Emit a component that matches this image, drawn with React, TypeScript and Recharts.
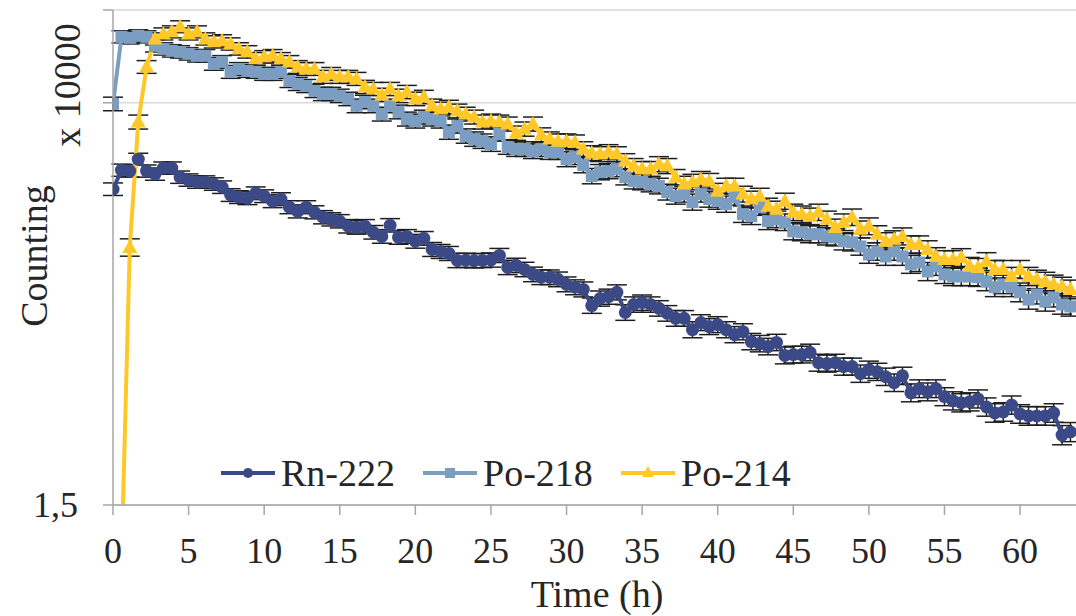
import { LineChart, Line, XAxis, YAxis, CartesianGrid, ErrorBar } from "recharts";

const RN = "#3B4A87";
const PO218 = "#7B9DC1";
const PO214 = "#FFC828";
const FONT = '"Liberation Serif", "Times New Roman", serif';
const TEXT = "#262626";
const AXIS = "#A6A6A6";
const GRID = "#D9D9D9";

// time of each count (h)
const hours = [
  0, 0.56, 1.11, 1.67, 2.22, 2.78, 3.33, 3.89, 4.44,
  5, 5.56, 6.11, 6.67, 7.22, 7.78, 8.33, 8.89, 9.44,
  10, 10.56, 11.11, 11.67, 12.22, 12.78, 13.33, 13.89, 14.44,
  15, 15.56, 16.11, 16.67, 17.22, 17.78, 18.33, 18.89, 19.44,
  20, 20.56, 21.11, 21.67, 22.22, 22.78, 23.33, 23.89, 24.44,
  25, 25.56, 26.11, 26.67, 27.22, 27.78, 28.33, 28.89, 29.44,
  30, 30.56, 31.11, 31.67, 32.22, 32.78, 33.33, 33.89, 34.44,
  35, 35.56, 36.11, 36.67, 37.22, 37.78, 38.33, 38.89, 39.44,
  40, 40.56, 41.11, 41.67, 42.22, 42.78, 43.33, 43.89, 44.44,
  45, 45.56, 46.11, 46.67, 47.22, 47.78, 48.33, 48.89, 49.44,
  50, 50.56, 51.11, 51.67, 52.22, 52.78, 53.33, 53.89, 54.44,
  55, 55.56, 56.11, 56.67, 57.22, 57.78, 58.33, 58.89, 59.44,
  60, 60.56, 61.11, 61.67, 62.22, 62.78, 63.33,
];

// counts, x 10000
const rn222 = [
  2.585, 2.671, 2.667, 2.722, 2.667, 2.653, 2.681, 2.681, 2.639, 2.626,
  2.617, 2.617, 2.608, 2.594, 2.559, 2.55, 2.545, 2.567, 2.554, 2.532,
  2.541, 2.506, 2.488, 2.506, 2.484, 2.463, 2.454, 2.446, 2.425, 2.42,
  2.425, 2.4, 2.383, 2.429, 2.379, 2.383, 2.363, 2.375, 2.33, 2.322,
  2.314, 2.286, 2.287, 2.285, 2.286, 2.288, 2.306, 2.259, 2.267, 2.251,
  2.232, 2.221, 2.221, 2.213, 2.194, 2.183, 2.175, 2.115, 2.141, 2.148,
  2.164, 2.09, 2.119, 2.126, 2.119, 2.105, 2.087, 2.069, 2.069, 2.029,
  2.054, 2.04, 2.047, 2.029, 2.012, 2.022, 1.988, 1.981, 1.971, 1.985,
  1.941, 1.944, 1.944, 1.951, 1.917, 1.914, 1.917, 1.904, 1.904, 1.881,
  1.894, 1.887, 1.871, 1.852, 1.874, 1.82, 1.833, 1.823, 1.833, 1.808,
  1.795, 1.789, 1.792, 1.801, 1.776, 1.758, 1.761, 1.782, 1.755, 1.749,
  1.749, 1.749, 1.758, 1.692, 1.701,
];

const po218 = [
  2.994, 3.361, 3.355, 3.367, 3.361, 3.309, 3.292, 3.281, 3.275, 3.264,
  3.253, 3.253, 3.208, 3.219, 3.164, 3.18, 3.169, 3.164, 3.153, 3.153,
  3.164, 3.115, 3.099, 3.088, 3.062, 3.046, 3.046, 3.036, 3.02, 2.984,
  3.004, 2.984, 2.942, 2.984, 2.953, 2.917, 2.907, 2.927, 2.917, 2.907,
  2.852, 2.882, 2.833, 2.818, 2.808, 2.794, 2.843, 2.78, 2.77, 2.77,
  2.76, 2.77, 2.756, 2.756, 2.722, 2.732, 2.694, 2.644, 2.662, 2.667,
  2.676, 2.639, 2.621, 2.617, 2.608, 2.599, 2.572, 2.554, 2.563, 2.528,
  2.563, 2.541, 2.532, 2.519, 2.55, 2.476, 2.467, 2.506, 2.446, 2.454,
  2.442, 2.404, 2.4, 2.392, 2.392, 2.383, 2.379, 2.363, 2.359, 2.342,
  2.31, 2.322, 2.302, 2.322, 2.302, 2.271, 2.278, 2.243, 2.263, 2.232,
  2.224, 2.224, 2.224, 2.221, 2.205, 2.183, 2.194, 2.183, 2.164, 2.137,
  2.156, 2.13, 2.145, 2.119, 2.112,
];

const po214 = [
  0.3, 1.36, 2.338, 2.902, 3.191, 3.349, 3.378, 3.39, 3.42, 3.378,
  3.39, 3.349, 3.332, 3.338, 3.32, 3.292, 3.275, 3.236, 3.247, 3.253,
  3.236, 3.219, 3.191, 3.18, 3.18, 3.137, 3.153, 3.137, 3.137, 3.126,
  3.083, 3.072, 3.041, 3.072, 3.036, 3.056, 3.02, 3.03, 2.984, 2.968,
  2.978, 2.958, 2.942, 2.927, 2.902, 2.907, 2.902, 2.892, 2.847, 2.867,
  2.892, 2.838, 2.818, 2.808, 2.808, 2.803, 2.77, 2.751, 2.746, 2.756,
  2.746, 2.713, 2.69, 2.676, 2.676, 2.699, 2.69, 2.639, 2.608, 2.617,
  2.63, 2.621, 2.576, 2.599, 2.599, 2.563, 2.541, 2.554, 2.51, 2.497,
  2.532, 2.484, 2.476, 2.467, 2.484, 2.454, 2.42, 2.442, 2.463, 2.412,
  2.425, 2.392, 2.363, 2.371, 2.383, 2.35, 2.35, 2.33, 2.302, 2.29,
  2.29, 2.298, 2.263, 2.259, 2.282, 2.251, 2.251, 2.224, 2.251, 2.224,
  2.213, 2.205, 2.194, 2.186, 2.175,
];

const hourTicks = [0, 5, 10, 15, 20, 25, 30, 35, 40, 45, 50, 55, 60];
const countTicks = [1.5, 3, 3.52];

// counting uncertainty (x 10000)
const rnErr = 0.028;
const po218Err = 0.035;
const po214Err = 0.035;

const rows = hours.map((t, i) => ({
  t,
  rn: rn222[i],
  po218: po218[i],
  po214: po214[i],
  rnE: rnErr,
  po218E: po218Err,
  po214E: po214[i] > 1.5 ? po214Err : 0,
}));

const ok = (p: any) => Number.isFinite(p.cx) && Number.isFinite(p.cy);

const RnDot = (p: any) =>
  ok(p) ? <circle key={p.index} cx={p.cx} cy={p.cy} r={6.5} fill={RN} /> : <g key={p.index} />;

const SquareDot = (p: any) =>
  ok(p) ? (
    <rect key={p.index} x={p.cx - 6} y={p.cy - 6} width={12} height={12} fill={PO218} />
  ) : (
    <g key={p.index} />
  );

const TriDot = (p: any) =>
  ok(p) ? (
    <polygon
      key={p.index}
      points={`${p.cx},${p.cy - 8} ${p.cx + 7.5},${p.cy + 5.5} ${p.cx - 7.5},${p.cy + 5.5}`}
      fill={PO214}
    />
  ) : (
    <g key={p.index} />
  );

const HourTick = ({ x, payload }: any) => (
  <text x={x} y={563} textAnchor="middle" fontFamily={FONT} fontSize={36} fill={TEXT}>
    {payload.value}
  </text>
);

const CountTick = ({ y, payload }: any) =>
  payload.value === 1.5 ? (
    <text x={78} y={y + 12} textAnchor="end" fontFamily={FONT} fontSize={36} fill={TEXT}>
      1,5
    </text>
  ) : (
    <g />
  );

function LegendItem({ x, label, color, shape }: { x: number; label: string; color: string; shape: string }) {
  const cx = x + 27;
  return (
    <g>
      <line x1={x} x2={x + 54} y1={473} y2={473} stroke={color} strokeWidth={4} />
      {shape === "circle" && <circle cx={cx} cy={473} r={5} fill={color} />}
      {shape === "square" && <rect x={cx - 5} y={468} width={10} height={10} fill={color} />}
      {shape === "tri" && <polygon points={`${cx},${466} ${cx + 6},${477} ${cx - 6},${477}`} fill={color} />}
      <text x={x + 60} y={486} fontFamily={FONT} fontSize={38} fill={TEXT}>
        {label}
      </text>
    </g>
  );
}

export default function App() {
  return (
    <div style={{ position: "absolute", left: 0, top: 0, width: 1076, height: 616, background: "#fff" }}>
      <LineChart width={1076} height={616} data={rows} margin={{ top: 10, right: 0, bottom: 0, left: 0 }}>
        <CartesianGrid vertical={false} stroke={GRID} strokeWidth={1.5} />
        <XAxis
          dataKey="t"
          type="number"
          domain={[0, 63.7]}
          ticks={hourTicks}
          interval={0}
          allowDataOverflow
          height={111}
          tickSize={10}
          axisLine={{ stroke: AXIS, strokeWidth: 1.5 }}
          tickLine={{ stroke: AXIS, strokeWidth: 1.5 }}
          tick={HourTick}
        />
        <YAxis
          type="number"
          scale="log"
          domain={[1.5, 3.52]}
          ticks={countTicks}
          interval={0}
          allowDataOverflow
          width={113}
          tickSize={10}
          axisLine={{ stroke: AXIS, strokeWidth: 1.5 }}
          tickLine={{ stroke: AXIS, strokeWidth: 1.5 }}
          tick={CountTick}
        />
        <Line
          dataKey="rn"
          stroke={RN}
          strokeWidth={4}
          dot={RnDot}
          activeDot={false}
          isAnimationActive={false}
        >
          <ErrorBar dataKey="rnE" direction="y" width={10} stroke="#1E1E1E" strokeWidth={1.5} isAnimationActive={false} />
        </Line>
        <Line
          dataKey="po218"
          stroke={PO218}
          strokeWidth={4}
          dot={SquareDot}
          activeDot={false}
          isAnimationActive={false}
        >
          <ErrorBar dataKey="po218E" direction="y" width={10} stroke="#1E1E1E" strokeWidth={1.5} isAnimationActive={false} />
        </Line>
        <Line
          dataKey="po214"
          stroke={PO214}
          strokeWidth={4}
          dot={TriDot}
          activeDot={false}
          isAnimationActive={false}
        >
          <ErrorBar dataKey="po214E" direction="y" width={10} stroke="#1E1E1E" strokeWidth={1.5} isAnimationActive={false} />
        </Line>
      </LineChart>
      <svg
        width={1076}
        height={616}
        style={{ position: "absolute", left: 0, top: 0, pointerEvents: "none" }}
      >
        <LegendItem x={221} label="Rn-222" color={RN} shape="circle" />
        <LegendItem x={423} label="Po-218" color={PO218} shape="square" />
        <LegendItem x={621} label="Po-214" color={PO214} shape="tri" />
        <text
          x={47}
          y={256}
          transform="rotate(-90 47 256)"
          textAnchor="middle"
          fontFamily={FONT}
          fontSize={38}
          fill={TEXT}
        >
          Counting
        </text>
        <text
          x={80}
          y={85}
          transform="rotate(-90 80 85)"
          textAnchor="middle"
          fontFamily={FONT}
          fontSize={38}
          fill={TEXT}
        >
          x 10000
        </text>
        <text x={597} y={607} textAnchor="middle" fontFamily={FONT} fontSize={38} fill={TEXT}>
          Time (h)
        </text>
      </svg>
    </div>
  );
}
